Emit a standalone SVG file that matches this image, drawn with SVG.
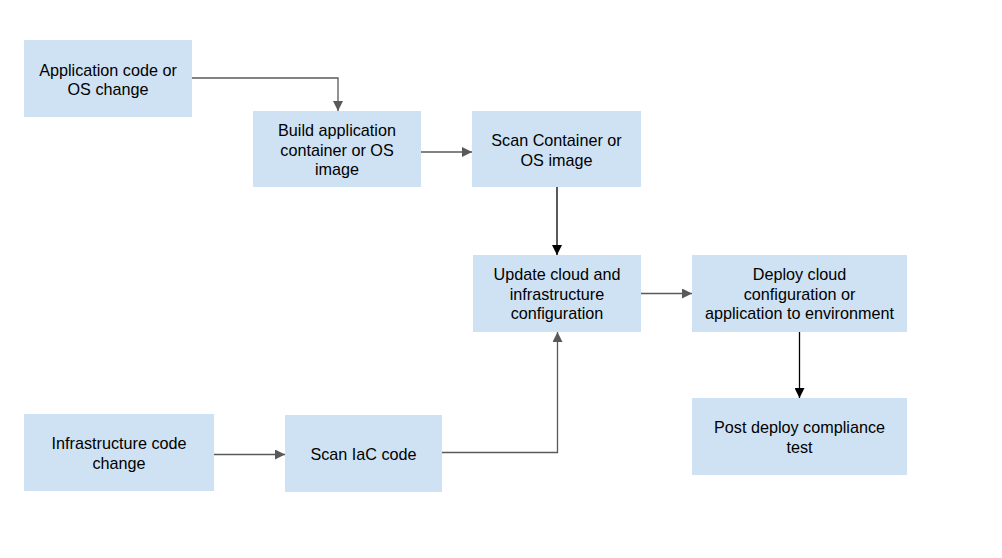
<svg xmlns="http://www.w3.org/2000/svg" width="1002" height="558" viewBox="0 0 1002 558">
<style>
.box{fill:#cfe2f3;}
.t{font-family:"Liberation Sans",Arial,sans-serif;font-size:16.2px;fill:#000;text-anchor:middle;}
.c{fill:none;stroke:#595959;stroke-width:1.3;}
.k{fill:none;stroke:#000;stroke-width:1.3;}
</style>
<defs>
<marker id="ag" viewBox="0 0 10 10" refX="10" refY="5" markerWidth="10" markerHeight="10" markerUnits="userSpaceOnUse" orient="auto">
<path d="M0,0 L10,5 L0,10 z" fill="#595959"/>
</marker>
<marker id="ak" viewBox="0 0 10 10" refX="10" refY="5" markerWidth="10" markerHeight="10" markerUnits="userSpaceOnUse" orient="auto">
<path d="M0,0 L10,5 L0,10 z" fill="#000"/>
</marker>
</defs>
<rect width="1002" height="558" fill="#fff"/>
<g id="connectors">
<path class="c" d="M191,78 H338 V111" marker-end="url(#ag)"/>
<path class="c" d="M421,152 H472" marker-end="url(#ag)"/>
<path class="k" d="M557,187 V255" marker-end="url(#ak)"/>
<path class="c" d="M641,293.5 H692" marker-end="url(#ag)"/>
<path class="k" d="M799.5,332 V398" marker-end="url(#ak)"/>
<path class="c" d="M214,454.5 H285" marker-end="url(#ag)"/>
<path class="c" d="M442,452.5 H557.5 V332" marker-end="url(#ag)"/>
</g>
<g id="n1"><rect class="box" x="24" y="40" width="168" height="77"/>
<text class="t" x="108" y="75.5">Application code or</text><text class="t" x="108" y="95">OS change</text></g>
<g id="n2"><rect class="box" x="253" y="111" width="168" height="76"/>
<text class="t" x="337" y="136">Build application</text><text class="t" x="337" y="155.5">container or OS</text><text class="t" x="337" y="175">image</text></g>
<g id="n3"><rect class="box" x="472" y="111" width="169" height="76"/>
<text class="t" x="556.5" y="146">Scan Container or</text><text class="t" x="556.5" y="165.5">OS image</text></g>
<g id="n4"><rect class="box" x="473" y="255" width="168" height="77"/>
<text class="t" x="557" y="280">Update cloud and</text><text class="t" x="557" y="299.5">infrastructure</text><text class="t" x="557" y="319">configuration</text></g>
<g id="n5"><rect class="box" x="692" y="255" width="215" height="77"/>
<text class="t" x="799.5" y="280">Deploy cloud</text><text class="t" x="799.5" y="299.5">configuration or</text><text class="t" x="799.5" y="319">application to environment</text></g>
<g id="n6"><rect class="box" x="692" y="398" width="215" height="77"/>
<text class="t" x="799.5" y="433">Post deploy compliance</text><text class="t" x="799.5" y="452.5">test</text></g>
<g id="n7"><rect class="box" x="24" y="414" width="190" height="77"/>
<text class="t" x="119" y="449">Infrastructure code</text><text class="t" x="119" y="468.5">change</text></g>
<g id="n8"><rect class="box" x="285" y="415" width="157" height="77"/>
<text class="t" x="363.5" y="459.5">Scan IaC code</text></g>
</svg>
